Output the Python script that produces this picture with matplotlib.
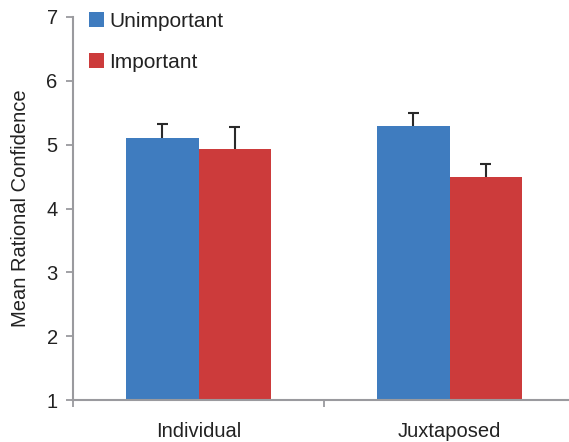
import matplotlib.pyplot as plt
import numpy as np

plt.rcParams['font.family'] = ['Liberation Sans', 'DejaVu Sans']

groups = ['Individual', 'Juxtaposed']
unimportant = [5.11, 5.29]
important = [4.93, 4.50]
unimportant_err = [0.22, 0.20]
important_err = [0.34, 0.20]

blue = '#3f7cbf'
red = '#cc3b3b'
axis_grey = '#9a9a9e'
text_col = '#222222'

fig = plt.figure(figsize=(5.69, 4.42), dpi=100)
ax = fig.add_axes([73 / 569, 42 / 442, 502 / 569, 383 / 442])

x = np.arange(len(groups))
w = 0.287
cap = 0.02

for xs, vals, errs, col, lab in [(x - w / 2, unimportant, unimportant_err, blue, 'Unimportant'),
                                 (x + w / 2, important, important_err, red, 'Important')]:
    vals = np.array(vals)
    tops = vals + np.array(errs)
    ax.bar(xs, vals - 1, w, bottom=1, color=col, label=lab)
    # only the upper half of the error bar is shown
    ax.vlines(xs, vals, tops, color='#2a2a2a', lw=1.5)
    ax.hlines(tops, xs - cap, xs + cap, color='#2a2a2a', lw=1.5)

ax.set_xlim(-0.5, 1.5)
ax.set_ylim(1, 7)
ax.set_yticks(range(1, 8))
ax.set_xticks([-0.5, 0.5, 1.5])
ax.set_xticklabels([])
ax.set_xticks(x, minor=True)
ax.set_xticklabels(groups, minor=True, fontsize=14.5, color=text_col)
ax.tick_params(axis='x', which='minor', length=0, pad=16)
ax.tick_params(axis='x', which='major', length=5, width=1.3, color=axis_grey)
ax.tick_params(axis='y', length=5, width=1.3, color=axis_grey, labelsize=14.5,
               labelcolor=text_col, pad=6)

for s in ['top', 'right']:
    ax.spines[s].set_visible(False)
for s in ['left', 'bottom']:
    ax.spines[s].set_color(axis_grey)
    ax.spines[s].set_linewidth(1.5)

ax.set_ylabel('Mean Rational Confidence', fontsize=14.5, color=text_col, labelpad=12)

ax.legend(loc='upper left', bbox_to_anchor=(-0.005, 1.062), frameon=False,
          fontsize=15, handlelength=0.7, handleheight=0.7, handletextpad=0.25,
          labelspacing=1.05, labelcolor=text_col)

fig.savefig('out.png', dpi=100)
